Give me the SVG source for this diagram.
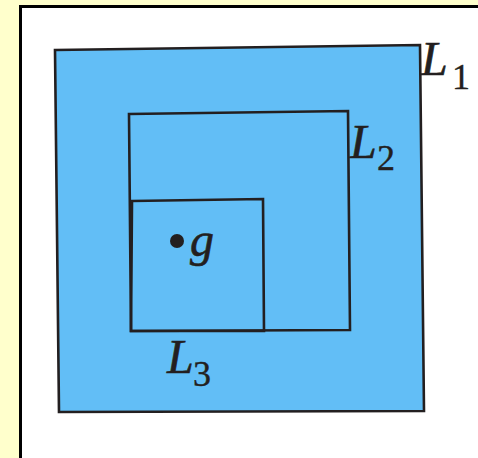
<svg xmlns="http://www.w3.org/2000/svg" width="478" height="458" viewBox="0 0 478 458">
<style>
.box{fill:none;stroke:#231f20;stroke-width:2.6;stroke-linejoin:miter}
.it{font-family:"Liberation Serif","Times New Roman",serif;font-style:italic;font-size:48px;fill:#231f20;stroke:#231f20;stroke-width:0.6}
.sub{font-family:"Liberation Serif","Times New Roman",serif;font-size:36px;fill:#231f20;stroke:#231f20;stroke-width:0.4}
</style>
<rect x="0" y="0" width="478" height="458" fill="#ffffcc"/>
<rect x="20.5" y="6.5" width="480" height="480" fill="#ffffff" stroke="#000000" stroke-width="3"/>
<g id="L1">
<polygon points="55,50 420,45 424,411 59,412" fill="#62bef6" stroke="#231f20" stroke-width="2.6"/>
<text class="it" x="421" y="75">L</text><text class="sub" x="452" y="89">1</text>
</g>
<g id="L2">
<polygon class="box" points="129,114 348,111 350,330 131,331"/>
<text class="it" x="350" y="158">L</text><text class="sub" x="377" y="170">2</text>
</g>
<g id="L3">
<polygon class="box" points="132,201 263,199 264,331 131,331"/>
<text class="it" x="167" y="373">L</text><text class="sub" x="193" y="386">3</text>
</g>
<g id="g">
<circle cx="177" cy="241" r="7" fill="#231f20"/>
<text class="it" x="190" y="256">g</text>
</g>
<g id="connectors"></g>
</svg>
